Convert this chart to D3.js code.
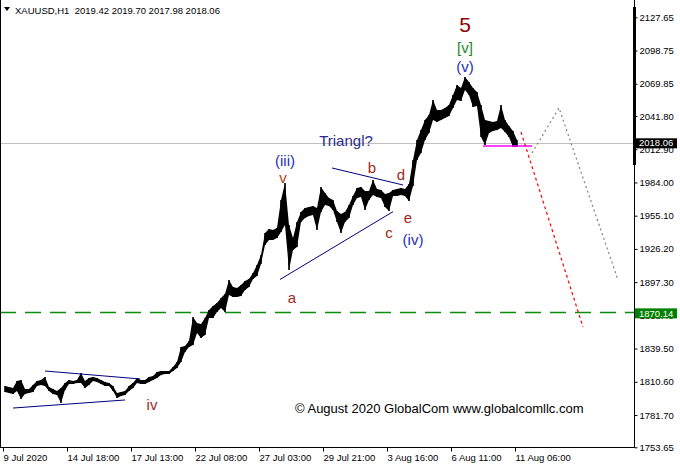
<!DOCTYPE html>
<html><head><meta charset="utf-8">
<script src="https://cdn.jsdelivr.net/npm/d3@7"></script>
<style>
body{margin:0;background:#fff}
svg{display:block;font-family:"Liberation Sans",Arial,sans-serif}
</style>
</head><body>
<svg id="c" width="680" height="470"></svg>
<script>
// ---- data (XAUUSD H1, grouped 4 hours per column) ----
const hoursPerGroup = 4;
const groupHigh = [
1806.97,1806.1,1805.2,1811.3,1812.2,1804.4,1804.4,1807.8,1811.3,1812.2,
1814.8,1806.1,1804.4,1802.6,1805.2,1809.6,1812.2,1811.3,1812.2,1818.3,
1811.3,1813.9,1814.8,1813.9,1812.2,1810.5,1809.6,1807.0,1800.9,1801.8,
1802.6,1807.0,1809.6,1813.9,1812.2,1812.2,1814.8,1815.7,1819.2,1820.0,
1820.0,1820.0,1823.5,1827.8,1840.9,1841.8,1846.1,1867.0,1861.8,1860.9,
1866.1,1873.1,1876.6,1879.2,1883.5,1887.0,1899.2,1893.1,1892.2,1894.8,
1898.3,1900.0,1905.3,1912.2,1920.9,1940.0,1943.5,1942.7,1944.4,1968.8,
1983.5,1947.0,1935.7,1949.6,1958.3,1961.8,1962.7,1963.5,1961.8,1980.1,
1974.8,1970.5,1968.8,1959.2,1956.6,1958.3,1964.4,1972.2,1979.2,1980.1,
1976.6,1976.6,1986.1,1978.3,1977.4,1974.0,1974.8,1977.4,1978.3,1979.2,
1978.3,1982.7,2003.5,2020.9,2029.6,2038.3,2042.7,2055.7,2047.0,2047.0,
2048.8,2051.4,2060.1,2068.8,2066.2,2075.7,2071.4,2066.2,2062.7,2051.4,
2038.3,2037.5,2036.6,2037.5,2051.4,2038.3,2033.1,2028.8,2020.9];
const groupLow = [
1801.75,1800.9,1800.0,1802.6,1795.7,1800.0,1800.9,1801.8,1807.0,1807.8,
1807.0,1802.6,1800.0,1799.1,1792.2,1803.5,1808.7,1808.7,1809.6,1809.6,
1805.2,1807.8,1811.3,1810.5,1808.7,1807.0,1807.0,1802.6,1796.5,1798.3,
1799.1,1802.6,1805.2,1809.6,1808.7,1808.7,1810.5,1812.2,1813.9,1816.5,
1817.4,1817.4,1820.0,1822.6,1827.8,1836.5,1840.9,1842.6,1853.1,1848.7,
1851.3,1866.1,1866.1,1871.3,1874.8,1871.3,1886.1,1884.4,1884.4,1885.3,
1890.5,1893.1,1900.0,1902.6,1913.1,1929.6,1934.0,1934.0,1935.7,1940.9,
1947.0,1907.9,1925.3,1927.9,1949.6,1953.1,1954.8,1955.7,1942.7,1958.3,
1964.4,1963.5,1960.1,1949.6,1940.0,1949.6,1953.1,1964.4,1970.5,1971.4,
1960.1,1968.8,1973.1,1971.4,1970.5,1962.7,1959.2,1972.2,1972.2,1973.1,
1972.2,1967.9,1980.9,2003.5,2009.6,2020.9,2027.0,2038.3,2036.6,2038.3,
2040.1,2041.8,2048.8,2055.7,2054.9,2064.4,2060.1,2049.6,2050.5,2023.5,
2016.6,2027.0,2028.8,2029.6,2031.4,2027.9,2023.5,2014.8,2014.8];

const priceTickLabels = ["2127.65","2098.75","2069.85","2041.80","2012.90","1984.00","1955.10",
  "1926.20","1897.30","1868.40","1839.50","1810.60","1781.70","1753.65"];
const timeTickHours = [0,64,128,192,256,320,384,448,512];
const timeTickLabels = ["9 Jul 2020","14 Jul 18:00","17 Jul 13:00","22 Jul 08:00","27 Jul 03:00",
  "29 Jul 21:00","3 Aug 16:00","6 Aug 11:00","11 Aug 06:00"];
const headerText = "XAUUSD,H1  2019.42 2019.70 2017.98 2018.06";
const lastPrice = 2018.06;
const supportPrice = 1870.14;

// annotation lines: [hour, price]
const triangle1Upper = [[42,1820.0],[137,1813.1]];
const triangle1Lower = [[10,1787.8],[122,1794.8]];
const triangle2Upper = [[329,1996.6],[400,1981.8]];
const triangle2Lower = [[277,1899.6],[390,1958.6]];
const magentaLevel = [[480,2015.7],[529,2015.7]];
const redForecast = [[518,2027.9],[580,1858.3]];
const grayForecast = [[529,2009.6],[556,2048.8],[615,1899.2]];

// wave labels: [hour, price, text, color, size]
const waveLabels = [
  [462, 2114.7, "5", "#8b0000", 21],
  [462, 2096.5, "[v]", "#22881e", 15],
  [462, 2080.0, "(v)", "#2430b8", 15],
  [282, 1998.6, "(iii)", "#2430b8", 15],
  [280, 1983.5, "v", "#b5400f", 15],
  [343, 2015.7, "Triangl?", "#2a2a8c", 15],
  [369, 1992.2, "b", "#a0291a", 15],
  [398, 1986.1, "d", "#a0291a", 15],
  [386, 1935.7, "c", "#a0291a", 15],
  [405, 1948.7, "e", "#a0291a", 15],
  [410, 1929.6, "(iv)", "#2430b8", 15],
  [289, 1879.2, "a", "#a0291a", 15],
  [149, 1786.1, "iv", "#a0291a", 15]
];
const copyrightText = "© August 2020 GlobalCom www.globalcomllc.com";

// ---- drawing ----
const svg = d3.select("#c");
const x = d3.scaleLinear().domain([0, 631]).range([3, 634]);
const y = d3.scaleLinear().domain([1753.65, 2127.65]).range([447.3, 17.3]);
const plotRight = 634, plotBottom = 447;

svg.append("rect").attr("width",680).attr("height",470).attr("fill","#fff");

// current price gray line
svg.append("line").attr("x1",0).attr("x2",plotRight)
  .attr("y1",Math.round(y(lastPrice))+0.5).attr("y2",Math.round(y(lastPrice))+0.5)
  .attr("stroke","#c0c0c0").attr("stroke-width",1);

// support green dashed line
svg.append("line").attr("x1",0).attr("x2",plotRight)
  .attr("y1",Math.round(y(supportPrice))-0.5).attr("y2",Math.round(y(supportPrice))-0.5)
  .attr("stroke","#0b8c0b").attr("stroke-width",1.3).attr("stroke-dasharray","16,9");

// price band: high/low per group, drawn through the scales
const groups = groupHigh.map((h,i)=>({i,h,l:groupLow[i]}));
const band = d3.area()
  .x(d=>x(d.i*hoursPerGroup + hoursPerGroup/2))
  .y0(d=>y(d.l)).y1(d=>y(d.h))
  .curve(d3.curveLinear);
svg.append("path").datum(groups).attr("d",band).attr("fill","#000");
// vertical high-low ranges of each group
svg.append("g").selectAll("line").data(groups).join("line")
  .attr("x1",d=>x(d.i*hoursPerGroup + hoursPerGroup/2))
  .attr("x2",d=>x(d.i*hoursPerGroup + hoursPerGroup/2))
  .attr("y1",d=>y(d.h)).attr("y2",d=>y(d.l))
  .attr("stroke","#000").attr("stroke-width",1.6);

const line = d3.line().x(d=>x(d[0])).y(d=>y(d[1]));
function drawLine(pts,color,w,dash){
  const p = svg.append("path").attr("d",line(pts)).attr("fill","none")
    .attr("stroke",color).attr("stroke-width",w);
  if(dash) p.attr("stroke-dasharray",dash);
}
drawLine(triangle1Upper,"#000080",1);
drawLine(triangle1Lower,"#000080",1);
drawLine(triangle2Upper,"#000080",1);
drawLine(triangle2Lower,"#000080",1);
drawLine(magentaLevel,"#ff00ff",1.5);
drawLine(redForecast,"#ff0000",1.2,"3,3");
drawLine(grayForecast,"#808080",1.2,"2,3");

// wave labels
svg.append("g").selectAll("text").data(waveLabels).join("text")
  .attr("x",d=>x(d[0])).attr("y",d=>y(d[1]))
  .attr("text-anchor","middle").attr("fill",d=>d[3])
  .attr("font-size",d=>d[4]+"px")
  .text(d=>d[2]);

// copyright
svg.append("text").attr("x",295).attr("y",413).attr("font-size","13px")
  .attr("fill","#000").text(copyrightText);

// header
svg.append("path").attr("d","M4,7 L10,7 L7,11 Z").attr("fill","#000");
svg.append("text").attr("x",15).attr("y",14).attr("font-size","9.5px")
  .attr("fill","#000").style("white-space","pre").text(headerText);

// frame
svg.append("line").attr("x1",0.5).attr("x2",0.5).attr("y1",0).attr("y2",plotBottom).attr("stroke","#000");
svg.append("line").attr("x1",0).attr("x2",plotRight+1).attr("y1",plotBottom+0.5).attr("y2",plotBottom+0.5).attr("stroke","#000");

// right price axis
const yAxis = d3.axisRight(y)
  .tickValues(priceTickLabels.map(Number))
  .tickFormat((d,i)=>priceTickLabels[i])
  .tickSize(3).tickSizeOuter(0).tickPadding(2);
const ya = svg.append("g").attr("transform",`translate(${plotRight+0.5},0)`).call(yAxis);
ya.select(".domain").remove();
ya.selectAll("line").attr("stroke","#000");
ya.selectAll("text").attr("font-size","9.5px").attr("fill","#000")
  .attr("font-family","'Liberation Sans',Arial,sans-serif");
svg.append("line").attr("x1",plotRight+0.5).attr("x2",plotRight+0.5).attr("y1",0).attr("y2",plotBottom+1).attr("stroke","#000");
svg.append("rect").attr("x",plotRight-1).attr("y",7).attr("width",3).attr("height",158).attr("fill","#000");

// price markers
function priceBox(p,bg){
  const yy = y(p);
  svg.append("rect").attr("x",plotRight+1).attr("y",yy-5).attr("width",42).attr("height",10).attr("fill",bg);
  svg.append("text").attr("x",plotRight+5).attr("y",yy).attr("dy","0.33em")
    .attr("font-size","9.5px").attr("fill","#fff").text(p.toFixed(2));
}
priceBox(lastPrice,"#000");
priceBox(supportPrice,"#008000");

// bottom time axis
const xAxis = d3.axisBottom(x).tickValues(timeTickHours)
  .tickFormat((d,i)=>timeTickLabels[i]).tickSize(4).tickSizeOuter(0).tickPadding(3);
const xa = svg.append("g").attr("transform",`translate(0,${plotBottom+0.5})`).call(xAxis);
xa.select(".domain").remove();
xa.selectAll("line").attr("stroke","#000");
xa.selectAll("text").attr("text-anchor","start").attr("font-size","9.5px").attr("fill","#000")
  .attr("font-family","'Liberation Sans',Arial,sans-serif");
</script>
</body></html>
